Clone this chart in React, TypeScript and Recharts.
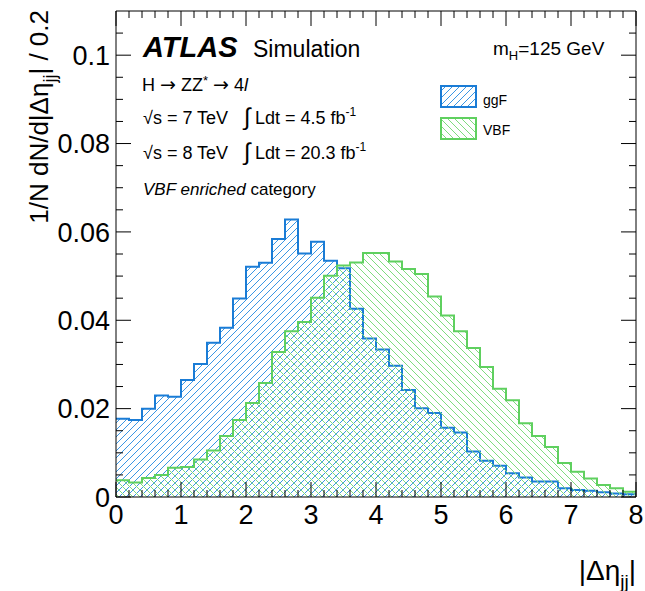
import React from 'react';
import { ComposedChart, Area, XAxis, YAxis, ReferenceLine } from 'recharts';

// bin lower edges of |Δη_jj| (bin width 0.2)
const binLow = Array.from({ length: 40 }, (_, i) => Math.round(i * 2) / 10);

// normalised ggF distribution, one value per bin
const ggF = [
  0.0177, 0.0174, 0.0200, 0.0230, 0.0227, 0.0265, 0.0301, 0.0349, 0.0383, 0.0449,
  0.0521, 0.0530, 0.0584, 0.0628, 0.0551, 0.0578, 0.0535, 0.0518, 0.0426, 0.0359,
  0.0334, 0.0297, 0.0242, 0.0201, 0.0190, 0.0157, 0.0146, 0.0103, 0.0082, 0.0071,
  0.0054, 0.0044, 0.0035, 0.0035, 0.0020, 0.0016, 0.0014, 0.0011, 0.0008, 0.0006,
];

// normalised VBF distribution
const vbf = [
  0.0038, 0.0033, 0.0043, 0.0050, 0.0066, 0.0068, 0.0085, 0.0105, 0.0138, 0.0174,
  0.0213, 0.0258, 0.0328, 0.0375, 0.0396, 0.0451, 0.0501, 0.0524, 0.0531, 0.0552,
  0.0552, 0.0533, 0.0516, 0.0505, 0.0454, 0.0411, 0.0375, 0.0337, 0.0294, 0.0245,
  0.0219, 0.0167, 0.0138, 0.0113, 0.0077, 0.0057, 0.0042, 0.0027, 0.0020, 0.0012,
];

const xMajor = [0, 1, 2, 3, 4, 5, 6, 7, 8];
const xMinor = Array.from({ length: 41 }, (_, i) => Math.round(i * 2) / 10);
const yMajor = [0, 0.02, 0.04, 0.06, 0.08, 0.1];
const yMinor = Array.from({ length: 22 }, (_, i) => (i * 5) / 1000);

const X_MAX = 8;
const Y_MAX = 0.11;
// tick lengths in axis units (plot is 520 x 486 px)
const xTickLen = (major: boolean) => ((major ? 15 : 7) * Y_MAX) / 486;
const yTickLen = (major: boolean) => ((major ? 15 : 7) * X_MAX) / 520;

const BLUE = '#1a7cd6';
const GREEN = '#5fd05f';
const BLUE_HATCH = '#3a96e4';
const GREEN_HATCH = '#7fdc7f';
const FONT = '"Liberation Sans", Arial, Helvetica, sans-serif';
const ARROW_FONT = '"DejaVu Sans", sans-serif';

// step histogram: one point per lower edge, plus the closing edge at 8
const data = binLow.map((x, i) => ({ x, ggF: ggF[i], vbf: vbf[i] }));
data.push({ x: 8, ggF: ggF[ggF.length - 1], vbf: vbf[vbf.length - 1] });

const XTick = (props: any) => (
  <text x={props.x} y={props.y} dy="0.71em" textAnchor="middle" fontSize={27} fontFamily={FONT} fill="#000">
    {props.payload.value}
  </text>
);

const YTick = (props: any) => (
  <text x={props.x + 2} y={props.y} dy="0.36em" textAnchor="end" fontSize={27} fontFamily={FONT} fill="#000">
    {props.payload.value}
  </text>
);

const isMajorX = (v: number) => Math.abs(v - Math.round(v)) < 1e-6;
const isMajorY = (v: number) => Math.abs(v / 0.02 - Math.round(v / 0.02)) < 1e-6;

const frame = { stroke: '#000', strokeWidth: 1 };

const tickLine = (key: string, a: { x: number; y: number }, b: { x: number; y: number }) => (
  <ReferenceLine key={key} xAxisId="main" yAxisId="main" segment={[a, b]} stroke="#000" strokeWidth={1} ifOverflow="visible" />
);

export default function App() {
  return (
    <div style={{ position: 'absolute', left: 0, top: 0, width: 645, height: 591, background: '#fff' }}>
      <ComposedChart width={645} height={591} data={data} margin={{ top: 11, right: 9, bottom: 54, left: 36 }}>
        <XAxis xAxisId="main" type="number" dataKey="x" domain={[0, X_MAX]} allowDataOverflow ticks={xMajor}
          tickLine={false} axisLine={frame} height={40} tick={<XTick />} interval={0} />
        <YAxis yAxisId="main" type="number" domain={[0, Y_MAX]} allowDataOverflow ticks={yMajor}
          tickLine={false} axisLine={frame} width={80} tick={<YTick />} interval={0} />

        <Area xAxisId="main" yAxisId="main" type="stepAfter" dataKey="ggF" name="ggF" stroke={BLUE} strokeWidth={2}
          fill="url(#hatchBlue)" fillOpacity={1} isAnimationActive={false} dot={false} activeDot={false} />
        <Area xAxisId="main" yAxisId="main" type="stepAfter" dataKey="vbf" name="VBF" stroke={GREEN} strokeWidth={2}
          fill="url(#hatchGreen)" fillOpacity={1} isAnimationActive={false} dot={false} activeDot={false} />

        {/* frame top and right */}
        {tickLine('top', { x: 0, y: Y_MAX }, { x: X_MAX, y: Y_MAX })}
        {tickLine('right', { x: X_MAX, y: 0 }, { x: X_MAX, y: Y_MAX })}

        {/* inward ticks on all four sides */}
        {xMinor.map((v) => tickLine(`b${v}`, { x: v, y: 0 }, { x: v, y: xTickLen(isMajorX(v)) }))}
        {xMinor.map((v) => tickLine(`t${v}`, { x: v, y: Y_MAX }, { x: v, y: Y_MAX - xTickLen(isMajorX(v)) }))}
        {yMinor.map((v) => tickLine(`l${v}`, { x: 0, y: v }, { x: yTickLen(isMajorY(v)), y: v }))}
        {yMinor.map((v) => tickLine(`r${v}`, { x: X_MAX, y: v }, { x: X_MAX - yTickLen(isMajorY(v)), y: v }))}
      </ComposedChart>

      <svg width={645} height={591} style={{ position: 'absolute', left: 0, top: 0, pointerEvents: 'none' }}
        fontFamily={FONT}>
        <defs>
          <pattern id="hatchBlue" patternUnits="userSpaceOnUse" width={7} height={7}>
            <line x1={-1} y1={1} x2={1} y2={-1} stroke={BLUE_HATCH} strokeWidth={1} />
            <line x1={0} y1={7} x2={7} y2={0} stroke={BLUE_HATCH} strokeWidth={1} />
            <line x1={6} y1={8} x2={8} y2={6} stroke={BLUE_HATCH} strokeWidth={1} />
          </pattern>
          <pattern id="hatchGreen" patternUnits="userSpaceOnUse" width={7} height={7}>
            <line x1={-1} y1={6} x2={1} y2={8} stroke={GREEN_HATCH} strokeWidth={1} />
            <line x1={0} y1={0} x2={7} y2={7} stroke={GREEN_HATCH} strokeWidth={1} />
            <line x1={6} y1={-1} x2={8} y2={1} stroke={GREEN_HATCH} strokeWidth={1} />
          </pattern>
        </defs>
        <g fill="#000">
          <text x={143} y={57} fontSize={29} fontWeight="bold" fontStyle="italic">ATLAS</text>
          <text x={253} y={57} fontSize={23}>Simulation</text>
          <text x={493} y={55} fontSize={19}>
            m<tspan fontSize={13} dy={5}>H</tspan><tspan dy={-5}>=125 GeV</tspan>
          </text>

          <text x={142} y={91} fontSize={18}>
            H <tspan fontFamily={ARROW_FONT} fontSize={19}>→</tspan> ZZ<tspan fontSize={13} dy={-6}>*</tspan>
            <tspan dy={6}> </tspan><tspan fontFamily={ARROW_FONT} fontSize={19}>→</tspan> 4<tspan fontStyle="italic">l</tspan>
          </text>
          <text x={143} y={124} fontSize={18}>√s = 7 TeV</text>
          <text x={244} y={125} fontSize={24}>∫</text>
          <text x={255} y={124} fontSize={18}>
            Ldt = 4.5 fb<tspan fontSize={12} dy={-8}>-1</tspan>
          </text>
          <text x={143} y={159} fontSize={18}>√s = 8 TeV</text>
          <text x={244} y={160} fontSize={24}>∫</text>
          <text x={255} y={159} fontSize={18}>
            Ldt = 20.3 fb<tspan fontSize={12} dy={-8}>-1</tspan>
          </text>
          <text x={143} y={195} fontSize={17}>
            <tspan fontStyle="italic">VBF enriched</tspan> category
          </text>

          <text x={483} y={105} fontSize={14}>ggF</text>
          <text x={483} y={135} fontSize={14}>VBF</text>

          <text transform="rotate(-90 48 10)" x={48} y={10} textAnchor="end" fontSize={26}>
            1/N dN/d|Δη<tspan fontSize={18} dy={8}>jj</tspan><tspan dy={-8}>| / 0.2</tspan>
          </text>
          <text x={636} y={580} textAnchor="end" fontSize={28}>
            |Δη<tspan fontSize={19} dy={8}>jj</tspan><tspan dy={-8}>|</tspan>
          </text>
        </g>
        <rect x={441} y={86} width={35} height={21} fill="url(#hatchBlue)" stroke={BLUE} strokeWidth={2} />
        <rect x={441} y={118} width={35} height={21} fill="url(#hatchGreen)" stroke={GREEN} strokeWidth={2} />
      </svg>
    </div>
  );
}
